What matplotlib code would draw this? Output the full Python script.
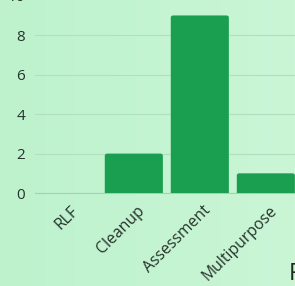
import matplotlib.pyplot as plt
import matplotlib.transforms as mtransforms
from matplotlib.colors import LinearSegmentedColormap
from matplotlib.patches import FancyBboxPatch
import numpy as np

# ====== Data ======
categories = ["RLF", "Cleanup", "Assessment", "Multipurpose"]
counts = [0, 2, 9, 1]
y_ticks = [0, 2, 4, 6, 8, 10]

# ====== Style ======
BAR_COLOR = "#1a9f50"
TEXT_COLOR = "#26332b"
GRID_COLOR = "#b0e0bf"

plt.rcParams['font.family'] = ['Open Sans', 'DejaVu Sans']

fig = plt.figure(figsize=(2.95, 2.86), dpi=100)

# background gradient (left a bit greener than right)
bg = fig.add_axes([0, 0, 1, 1], zorder=-10)
grad = np.linspace(0, 1, 256).reshape(1, -1)
cmap = LinearSegmentedColormap.from_list("bg", ["#bdf2cd", "#caf6d6"])
bg.imshow(grad, aspect="auto", cmap=cmap, extent=[0, 1, 0, 1])
bg.axis("off")

# main axes runs off the top and right edges of the picture
ax = fig.add_axes([0.118, 0.325, 0.895, 0.69])
ax.patch.set_alpha(0)

x = np.arange(len(categories))
bars = ax.bar(x, counts, width=0.88, color=BAR_COLOR, zorder=3)

ax.set_xlim(-0.5, len(categories) - 0.5)
ax.set_ylim(0, 10)

# slightly rounded bar corners
for b in bars:
    if b.get_height() <= 0:
        continue
    b.set_visible(False)
    r = 0.04
    ax.add_patch(FancyBboxPatch((b.get_x() + r, b.get_y()), b.get_width() - 2 * r,
                                b.get_height() - r * 2.5,
                                boxstyle=f"round,pad={r},rounding_size={r}",
                                mutation_aspect=2.5,
                                facecolor=BAR_COLOR, edgecolor="none", zorder=3))

ax.grid(axis="y", color=GRID_COLOR, linewidth=0.8, zorder=0)
for s in ["top", "right", "left"]:
    ax.spines[s].set_visible(False)
ax.spines["bottom"].set_color("#a3d0b0")
ax.spines["bottom"].set_linewidth(0.8)

ax.tick_params(axis="both", length=0, colors=TEXT_COLOR)
ax.tick_params(axis="y", pad=7, labelsize=11)
ax.tick_params(axis="x", pad=7, labelsize=11.3)

ax.set_yticks(y_ticks)
ax.set_xticks(x)
ax.set_xticklabels(categories, rotation=45, ha="right", rotation_mode="anchor")
shift = mtransforms.ScaledTranslation(0.03, 0, fig.dpi_scale_trans)
for lbl in ax.get_xticklabels():
    lbl.set_transform(lbl.get_transform() + shift)

# axis title that is mostly outside the crop
fig.text(289 / 295, 0.0, "Program Type", fontsize=17, color="#1f2a22",
         ha="left", va="bottom")

fig.savefig("out.png", dpi=100)
